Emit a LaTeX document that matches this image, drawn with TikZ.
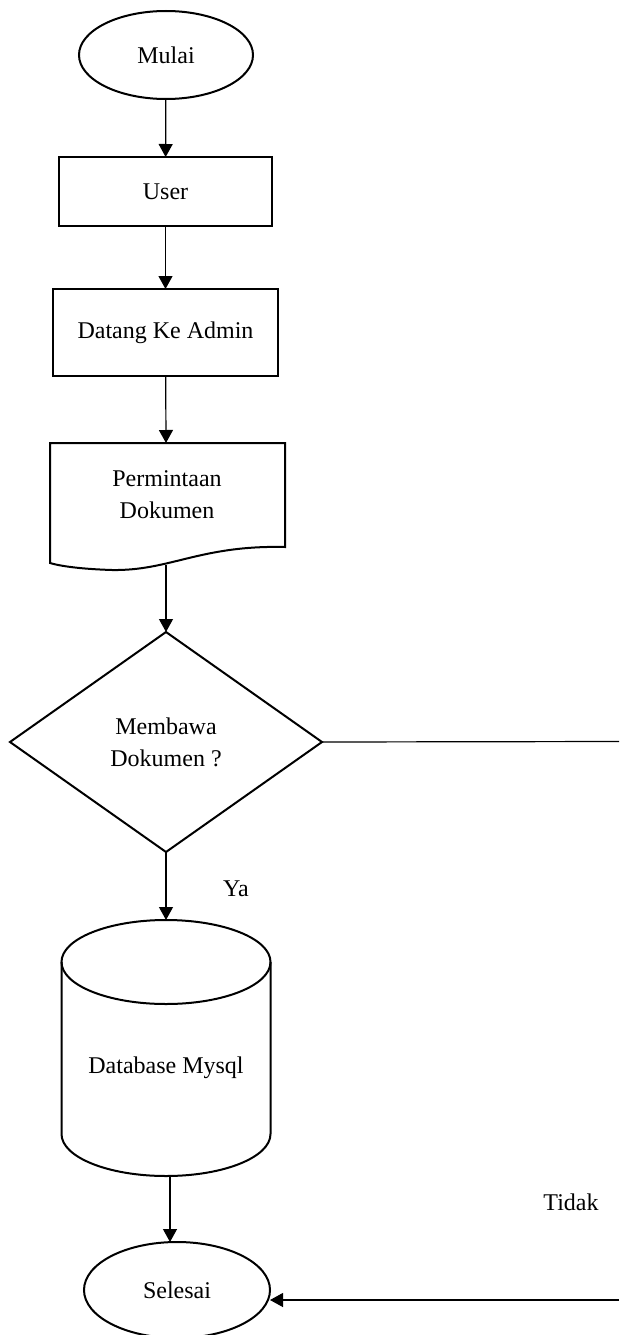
\documentclass[tikz,border=0pt]{standalone}
\usepackage{fontspec}
\setmainfont{Liberation Serif}
\usetikzlibrary{shapes.geometric,arrows.meta}
\begin{document}
\begin{tikzpicture}[x=1pt,y=-1pt,font=\fontsize{24}{32}\selectfont,
		garis/.style={line width=2pt},
		tipis/.style={line width=1.2pt},
		panah/.style={tipis,-{Triangle[width=14pt,length=13pt]}},
		terminal/.style={ellipse,draw,garis,inner sep=0pt,outer sep=0pt},
		proses/.style={rectangle,draw,garis,inner sep=0pt,outer sep=0pt},
		keputusan/.style={diamond,draw,garis,inner sep=0pt,outer sep=0pt,align=center}]
			\useasboundingbox (0,0) rectangle (619,1335);
			\node [terminal,minimum width=174pt,minimum height=88pt] (mulai) at (166,55) {Mulai};
			\node [proses,minimum width=213pt,minimum height=69pt] (user) at (165.5,191.5) {User};
			\node [proses,minimum width=225pt,minimum height=87pt] (datang) at (165.5,332.5) {Datang Ke Admin};
			% dokumen
			\draw [garis] (50,443)--(285,443)--(285,547) ..controls (200,545) and (170,571) .. (112,570) ..controls (80,569) and (60,566) .. (50,563)--cycle;
			\node [align=center] (minta) at (167,495) {Permintaan\\Dokumen};
			\coordinate (mintaatas) at (166,443);
			\coordinate (mintabawah) at (166,565);
			\node [keputusan,minimum width=312pt,minimum height=220pt] (bawa) at (166,742) {Membawa\\Dokumen ?};
			% database
			\draw [garis] (166,962) ellipse [x radius=104.5pt,y radius=42pt];
			\draw [garis] (61.5,962)--(61.5,1134) arc [start angle=180,end angle=360,x radius=104.5pt,y radius=42pt]--(270.5,962);
			\node (db) at (166,1068) {Database Mysql};
			\coordinate (dbatas) at (166,920);
			\coordinate (dbbawah) at (170,1176);
			\node [terminal,minimum width=186pt,minimum height=96pt] (selesai) at (177,1290) {Selesai};
			\node (ya) at (236,889) {Ya};
			\node (tidak) at (571,1202) {Tidak};
			\coordinate (kanan1) at (619,741.5);
			\coordinate (kanan2) at (619,1300);
			% panah
			\draw [panah] (mulai)--(user);
			\draw [panah] (user)--(datang);
			\draw [panah] (datang)--(mintaatas);
			\draw [panah] (mintabawah)--(bawa.north);
			\draw [panah] (bawa.south)--(dbatas);
			\draw [panah] (dbbawah)--(dbbawah |- selesai.north);
			\draw [tipis] (bawa.east)--(kanan1);
			\draw [panah] (kanan2)--(kanan2 -| selesai.east);
		\end{tikzpicture}
\end{document}
